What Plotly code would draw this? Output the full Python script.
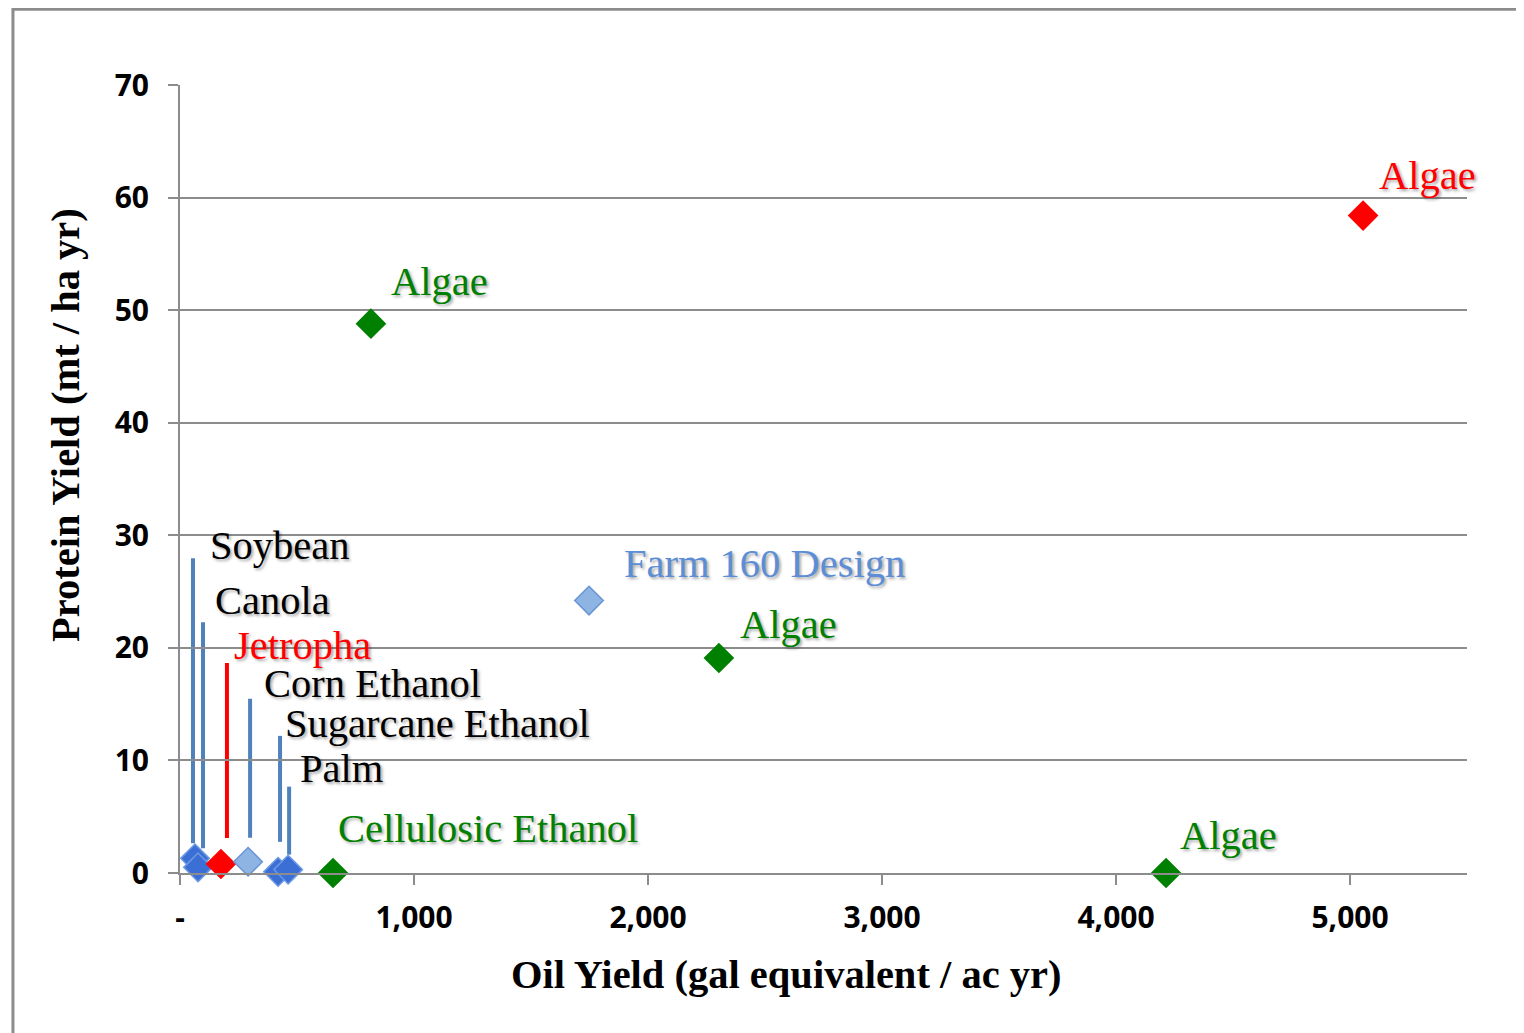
import plotly.graph_objects as go

# ---- data ----
names = ["Soybean", "Canola", "Jetropha", "Corn Ethanol", "Sugarcane Ethanol", "Palm",
         "Cellulosic Ethanol", "Farm 160 Design", "Algae", "Algae", "Algae", "Algae"]
oil_yield = [64, 77, 175, 291, 419, 462, 654, 1748, 816, 2303, 4214, 5056]
protein_yield = [1.3, 0.5, 0.8, 1.0, 0.1, 0.3, 0.0, 24.2, 48.8, 19.1, 0.0, 58.4]
x_tick_vals = [0, 1000, 2000, 3000, 4000, 5000]
x_tick_text = ["-", "1,000", "2,000", "3,000", "4,000", "5,000"]
y_tick_vals = [0, 10, 20, 30, 40, 50, 60, 70]

# ---- styles ----
BLUE, LBLUE, RED, GREEN = "#3C6FD6", "#8DB4E2", "#FF0000", "#008000"
fill = [BLUE, BLUE, RED, LBLUE, BLUE, BLUE, GREEN, LBLUE, GREEN, GREEN, GREEN, RED]
edge = ["#6C98E3", "#6C98E3", RED, "#6A95D4", "#6C98E3", "#6C98E3", GREEN, "#6A95D4",
        GREEN, GREEN, GREEN, RED]
text_col = ["black", "black", RED, "black", "black", "black", GREEN, "#5B8ED6",
            GREEN, GREEN, GREEN, RED]
# label offsets in px (x right, y up) relative to each point
lab_dx = [13, 15, 11, 14, 5, 10, 3, 33, 18, 19, 12, 14]
lab_dy = [313, 267, 218, 178, 148, 101, 45, 37, 42, 33, 38, 40]
# leader lines: (index, x px offset, bottom px, top px, colour)
leaders = [(0, -2, 15, 300, "#4F81BD"), (1, 5, 19, 245, "#4F81BD"),
           (2, 6, 26, 201, RED), (3, 2, 24, 163, "#4F81BD"),
           (4, 2, 30, 136, "#4F81BD"), (5, 1, 15, 83, "#4F81BD")]

fig = go.Figure()
fig.add_trace(go.Scatter(
    x=oil_yield, y=protein_yield, mode="markers",
    marker=dict(symbol="diamond", size=22, color=fill, line=dict(color=edge, width=1.5)),
    showlegend=False, cliponaxis=False))

for i, dx, b, t, c in leaders:
    fig.add_shape(type="line", xref="x", yref="y", xsizemode="pixel", ysizemode="pixel",
                  xanchor=oil_yield[i], yanchor=protein_yield[i],
                  x0=dx, x1=dx, y0=b, y1=t, line=dict(color=c, width=4), layer="below")

shadow = "2px 2px 3px rgba(0,0,0,0.35)"
for i, n in enumerate(names):
    fig.add_annotation(x=oil_yield[i], y=protein_yield[i], text=n, showarrow=False,
                       xanchor="left", yanchor="middle", xshift=lab_dx[i], yshift=lab_dy[i],
                       font=dict(family="Liberation Serif", size=40.5, color=text_col[i],
                                 shadow=shadow))

fig.add_annotation(xref="paper", yref="paper", x=0.471, y=-0.1294, showarrow=False,
                   xanchor="center", yanchor="middle",
                   text="<b>Oil Yield (gal equivalent / ac yr)</b>",
                   font=dict(family="Liberation Serif", size=40.5, color="black"))
fig.add_annotation(xref="paper", yref="paper", x=-0.0894, y=0.5685, showarrow=False,
                   xanchor="center", yanchor="middle",
                   textangle=-90, text="<b>Protein Yield (mt / ha yr)</b>",
                   font=dict(family="Liberation Serif", size=40.5, color="black"))

# outer border
fig.add_shape(type="rect", xref="paper", yref="paper", x0=-0.1298, x1=1.2, y0=-0.5, y1=1.096,
              line=dict(color="#8C8C8C", width=3), layer="below")

fig.update_layout(
    width=1524, height=1033,
    margin=dict(l=172, r=65, t=77, b=168, autoexpand=False),
    paper_bgcolor="white", plot_bgcolor="white",
    xaxis=dict(range=[0, 5500], tickvals=x_tick_vals, ticktext=x_tick_text,
               showgrid=False, zeroline=False, showline=True, linecolor="#8C8C8C",
               linewidth=2, ticks="outside", ticklen=10, tickwidth=2, tickcolor="#8C8C8C",
               ticklabelstandoff=7,
               tickfont=dict(family="Open Sans", size=30, color="black", weight="bold")),
    yaxis=dict(range=[0, 70], tickvals=y_tick_vals, showgrid=True, gridcolor="#8C8C8C",
               gridwidth=2, zeroline=False, showline=True, linecolor="#8C8C8C",
               linewidth=2, ticks="outside", ticklen=10, tickwidth=2, tickcolor="#8C8C8C",
               ticklabelstandoff=13,
               tickfont=dict(family="Open Sans", size=30, color="black", weight="bold")),
)

fig.write_html("out.html")
